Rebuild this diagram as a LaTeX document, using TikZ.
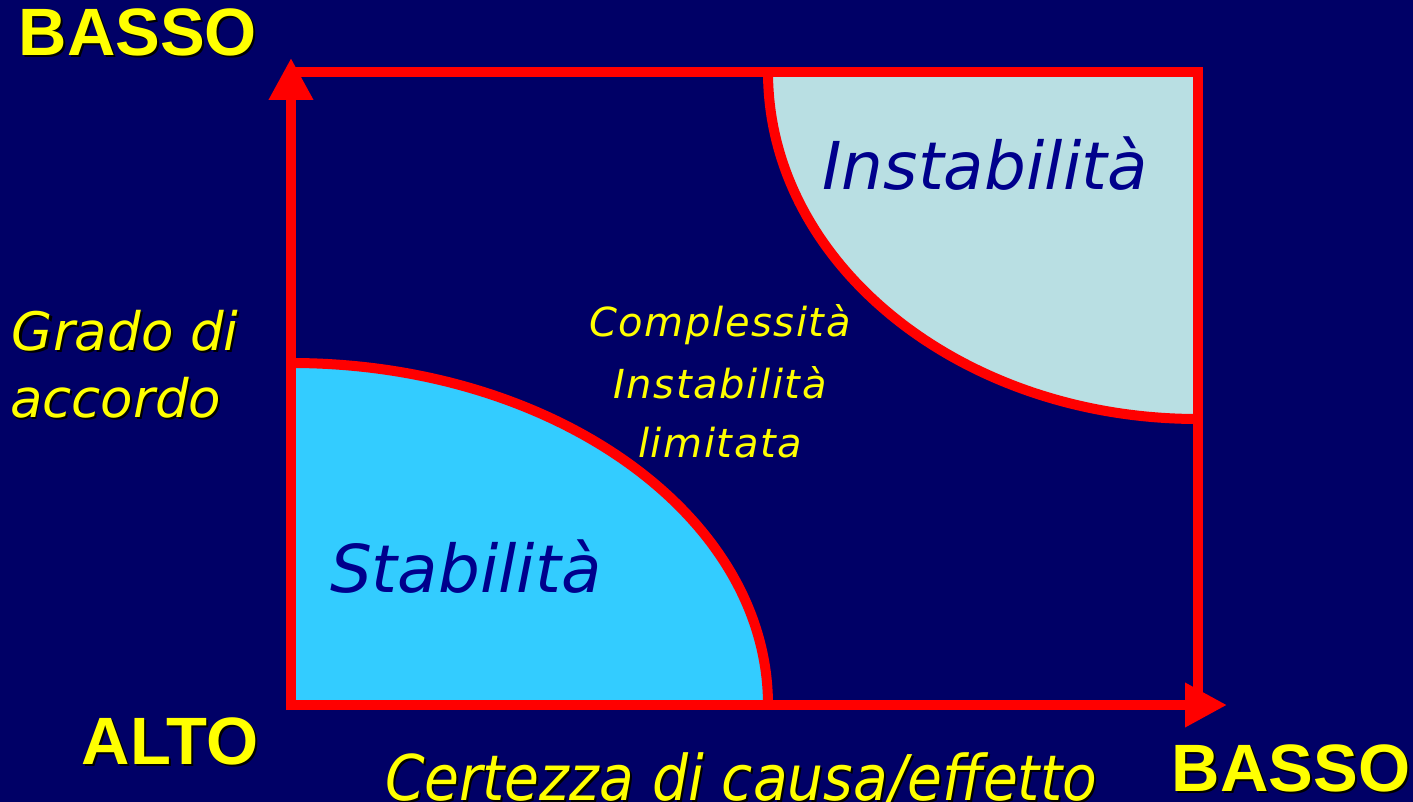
\documentclass[tikz,border=0pt]{standalone}
\usepackage{fontspec}
\usetikzlibrary{arrows.meta}
\newfontfamily\arialfont{Liberation Sans}
\newfontfamily\vfont{DejaVu Sans}
\newfontfamily\vfontsp{DejaVu Sans}[LetterSpace=4]
\definecolor{bgnavy}{RGB}{0,0,102}
\definecolor{stabfill}{RGB}{51,204,255}
\definecolor{instfill}{RGB}{185,223,227}
\definecolor{darktext}{RGB}{0,0,140}
\definecolor{lblyellow}{RGB}{255,255,0}
\tikzset{
  redline/.style={draw=red, line width=10pt},
  axisline/.style={redline, line cap=butt, -{Triangle[length=42pt,width=42pt]}},
  shadowtxt/.style={text=black, inner sep=0pt, outer sep=0pt},
  labeltxt/.style={text=lblyellow, inner sep=0pt, outer sep=0pt},
  regiontxt/.style={text=darktext, inner sep=0pt, outer sep=0pt},
}
\newcommand\shadowlabel[5]{%
  \node[shadowtxt, anchor=#3, xshift=2pt, yshift=-2pt] (#1-shadow) at (#2) {#4#5};
  \node[labeltxt, anchor=#3] (#1) at (#2) {#4#5};}
\begin{document}
\begin{tikzpicture}[x=1pt,y=-1pt]
\useasboundingbox (0,0) rectangle (1413,802);
\fill[bgnavy] (0,0) rectangle (1413,802);
% corners
\coordinate (O) at (291,705);
\coordinate (ytip) at (291,58);
\coordinate (xtip) at (1227,705);
\coordinate (TL) at (291,72);
\coordinate (TR) at (1198,72);
\coordinate (BR) at (1198,705);
\coordinate (stabtop) at (291,363);
\coordinate (insttop) at (768,72);
% regions
\fill[stabfill] (O) -- (stabtop) arc[start angle=-90, end angle=0, x radius=477, y radius=342] -- cycle;
\fill[instfill] (TR) -- (insttop) arc[start angle=180, end angle=90, x radius=430, y radius=347] -- cycle;
\draw[redline] (stabtop) arc[start angle=-90, end angle=0, x radius=477, y radius=342];
\draw[redline] (insttop) arc[start angle=180, end angle=90, x radius=430, y radius=347];
% frame and axes
\draw[redline, line join=miter] (TL) -- (TR) -- (BR);
\draw[axisline] ([yshift=-5pt]O) -- (ytip);
\draw[axisline] ([xshift=-5pt]O) -- (xtip);
% labels
\shadowlabel{bassotop}{138,56}{base}{\arialfont\bfseries\fontsize{67}{72}\selectfont}{BASSO}
\shadowlabel{alto}{170,764}{base}{\arialfont\bfseries\fontsize{67}{72}\selectfont}{ALTO}
\shadowlabel{bassobottom}{1291,791}{base}{\arialfont\bfseries\fontsize{67}{72}\selectfont}{BASSO}
\shadowlabel{grado}{12,350}{base west}{\vfont\itshape\fontsize{53}{60}\selectfont}{Grado di}
\shadowlabel{accordo}{10,417}{base west}{\vfont\itshape\fontsize{53}{60}\selectfont}{accordo}
\shadowlabel{certezza}{385,800}{base west}{\vfont\itshape\fontsize{63}{70}\selectfont}{\scalebox{0.9}[1]{Certezza di causa/effetto}}
\node[labeltxt, anchor=base] (compl) at (720,336) {\vfontsp\itshape\fontsize{40}{44}\selectfont Complessità};
\node[labeltxt, anchor=base] (instlim) at (720,398) {\vfontsp\itshape\fontsize{40}{44}\selectfont Instabilità};
\node[labeltxt, anchor=base] (limitata) at (720,457) {\vfontsp\itshape\fontsize{40}{44}\selectfont limitata};
\node[regiontxt, anchor=base west] (stab) at (330,592) {\vfont\itshape\fontsize{66}{70}\selectfont Stabilità};
\node[regiontxt, anchor=base] (inst) at (985,190) {\vfont\itshape\fontsize{66}{70}\selectfont Instabilità};
\end{tikzpicture}
\end{document}
